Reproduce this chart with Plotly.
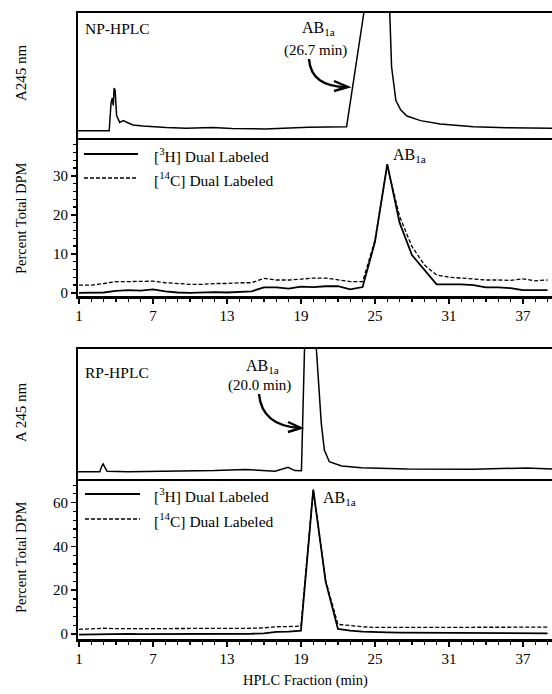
import plotly.graph_objects as go

# ---------------- data ----------------
fractions = [1, 2, 3, 4, 5, 6, 7, 8, 9, 10, 11, 12, 13, 14, 15, 16, 17, 18, 19, 20,
             21, 22, 23, 24, 25, 26, 27, 28, 29, 30, 31, 32, 33, 34, 35, 36, 37, 38, 39]

np_h3 = [0.0, 0.0, 0.1, 0.5, 0.7, 0.6, 0.9, 0.4, 0.1, 0.0, 0.1, 0.2, 0.1, 0.2, 0.4, 1.4,
         1.4, 1.1, 1.6, 1.5, 1.7, 1.7, 0.9, 1.5, 13.0, 33.0, 18.0, 9.7, 5.9, 2.2, 2.2, 2.2,
         2.0, 1.4, 1.4, 1.2, 0.7, 0.7, 0.7]
np_c14 = [2.0, 2.0, 2.4, 2.9, 2.9, 3.0, 3.0, 2.6, 2.4, 2.2, 2.2, 2.4, 2.4, 2.6, 2.6, 3.7,
          3.3, 3.3, 3.5, 3.8, 3.8, 3.4, 2.9, 2.9, 13.5, 32.5, 19.6, 11.9, 7.2, 4.6, 4.0, 3.8,
          3.6, 3.3, 3.3, 3.2, 3.6, 3.1, 3.3]

rp_h3 = [-0.3, -0.2, 0.0, 0.2, 0.0, -0.1, -0.1, -0.1, -0.1, -0.1, 0.0, 0.0, 0.0, 0.1, 0.1, 0.3,
         1.0, 1.1, 1.5, 66.0, 24.0, 2.3, 1.5, 1.1, 0.8, 0.7, 0.6, 0.6, 0.5, 0.5, 0.5, 0.4,
         0.4, 0.4, 0.4, 0.3, 0.3, 0.3, 0.3]
rp_c14 = [2.1, 2.4, 2.6, 2.4, 2.4, 2.3, 2.3, 2.3, 2.3, 2.3, 2.4, 2.4, 2.5, 2.5, 2.6, 2.8,
          3.3, 3.4, 3.6, 66.0, 24.5, 4.4, 3.8, 3.3, 3.0, 3.0, 3.0, 3.0, 3.0, 3.0, 3.0, 3.0,
          3.0, 3.0, 3.0, 3.1, 3.1, 3.1, 3.1]

# UV absorbance traces (relative % of panel height, off-scale peak clipped)
np_abs_x = [0.92, 3.45, 3.6, 3.7, 3.78, 3.85, 3.93, 4.05, 4.3, 4.6, 5.0, 5.38, 6.19, 7.0,
            8.07, 9.69, 11.8, 13.4, 16.1, 19.6, 22.7, 24.1, 24.5, 26.0, 26.2, 26.35, 26.7,
            27.1, 27.6, 28.7, 30.3, 33.0, 35.7, 39.36]
np_abs_y = [5.8, 5.8, 28, 32, 26, 40, 38, 18, 12.5, 14, 12, 10.4, 9.6, 9.0,
            8.3, 7.7, 8.3, 7.6, 7.2, 8.5, 9.0, 100, 160, 160, 100, 57, 30,
            22.4, 17.6, 13.9, 11.2, 9.0, 8.2, 7.7]

rp_abs_x = [0.92, 2.69, 2.85, 2.96, 3.1, 3.28, 5.0, 8.07, 12.0, 14.5, 16.9, 17.96, 18.5,
            19.04, 19.3, 19.45, 20.1, 20.25, 20.65, 20.9, 21.3, 22.3, 23.9, 27.6, 33.0,
            37.3, 39.36]
rp_abs_y = [5.6, 5.6, 10, 11.5, 9, 5.9, 5.6, 5.9, 6.5, 7.4, 6.0, 9.0, 6.5,
            6.4, 100, 160, 160, 100, 42.8, 22.3, 13.3, 10, 8.7, 7.7, 7.5,
            8.5, 7.7]

x_tickvals = [1, 7, 13, 19, 25, 31, 37]
np_dpm_ticks = [0, 10, 20, 30]
rp_dpm_ticks = [0, 20, 40, 60]

# ---------------- layout helpers ----------------
W, H = 552, 694
L = 78


def px(x):
    return (x - L) / (W - L)


def py(y):
    return 1 - y / H


FONT = "Liberation Serif"
BLACK = "black"
XR = [0.92, 39.36]

fig = go.Figure()

# panel 1: NP absorbance
fig.add_trace(go.Scatter(x=np_abs_x, y=np_abs_y, mode="lines", xaxis="x", yaxis="y",
                         line=dict(color=BLACK, width=1.5), showlegend=False))
# panel 2: NP DPM
fig.add_trace(go.Scatter(x=fractions, y=np_c14, mode="lines", xaxis="x2", yaxis="y2",
                         line=dict(color=BLACK, width=1.3, dash="4px,2px"), showlegend=False))
fig.add_trace(go.Scatter(x=fractions, y=np_h3, mode="lines", xaxis="x2", yaxis="y2",
                         line=dict(color=BLACK, width=1.8), showlegend=False))
# panel 3: RP absorbance
fig.add_trace(go.Scatter(x=rp_abs_x, y=rp_abs_y, mode="lines", xaxis="x3", yaxis="y3",
                         line=dict(color=BLACK, width=1.5), showlegend=False))
# panel 4: RP DPM
fig.add_trace(go.Scatter(x=fractions, y=rp_c14, mode="lines", xaxis="x4", yaxis="y4",
                         line=dict(color=BLACK, width=1.3, dash="4px,2px"), showlegend=False))
fig.add_trace(go.Scatter(x=fractions, y=rp_h3, mode="lines", xaxis="x4", yaxis="y4",
                         line=dict(color=BLACK, width=1.8), showlegend=False))

tickfont = dict(family=FONT, size=15, color=BLACK)

abs_x = dict(range=XR, showticklabels=False, ticks="", showline=True, mirror=True,
             linecolor=BLACK, linewidth=2, showgrid=False, zeroline=False, automargin=False)
abs_y = dict(range=[0, 100], showticklabels=False, ticks="", showline=True,
             linecolor=BLACK, linewidth=2, showgrid=False, zeroline=False, automargin=False)
dpm_x = dict(range=XR, tickmode="array", tickvals=x_tickvals, ticks="outside", ticklen=5,
             tickwidth=1.5, tickcolor=BLACK, showline=True, linecolor=BLACK, linewidth=2.5,
             showgrid=False, zeroline=False, tickfont=tickfont, ticklabelstandoff=-1,
             automargin=False,
             minor=dict(dtick=1, tick0=1, ticks="outside", ticklen=3, tickwidth=1.2,
                        tickcolor=BLACK, showgrid=False))


def dpm_y(rng, ticks, minor_dt):
    return dict(range=rng, tickmode="array", tickvals=ticks, ticks="outside", ticklen=5,
                tickwidth=1.5, tickcolor=BLACK, showline=True, linecolor=BLACK,
                linewidth=2, showgrid=False, zeroline=False, tickfont=tickfont,
                automargin=False,
                minor=dict(dtick=minor_dt, tick0=0, ticks="outside", ticklen=3,
                           tickwidth=1.2, tickcolor=BLACK, showgrid=False))


fig.update_layout(
    width=W, height=H,
    margin=dict(l=L, r=0, t=0, b=0, autoexpand=False),
    paper_bgcolor="white", plot_bgcolor="white",
    font=dict(family=FONT, size=14, color=BLACK),
    showlegend=False,
    hovermode=False,
    xaxis=dict(domain=[0, 1], anchor="y", **abs_x),
    yaxis=dict(domain=[py(138), py(13)], anchor="x", **abs_y),
    xaxis2=dict(domain=[0, 1], anchor="y2", **dpm_x),
    yaxis2=dict(domain=[py(296), py(138)], anchor="x2", **dpm_y([-0.8, 39.7], np_dpm_ticks, 2)),
    xaxis3=dict(domain=[0, 1], anchor="y3", **abs_x),
    yaxis3=dict(domain=[py(479), py(349)], anchor="x3", **abs_y),
    xaxis4=dict(domain=[0, 1], anchor="y4", **dpm_x),
    yaxis4=dict(domain=[py(639), py(479)], anchor="x4", **dpm_y([-2.3, 70.8], rp_dpm_ticks, 4)),
)

ann = []


def text(x, y, s, size=14, xanchor="center", yanchor="middle", angle=0):
    ann.append(dict(x=px(x), y=py(y), xref="paper", yref="paper", text=s, showarrow=False,
                    xanchor=xanchor, yanchor=yanchor, textangle=angle, borderpad=0,
                    font=dict(family=FONT, size=size, color=BLACK)))


# panel labels
text(84, 28, "NP-HPLC", 15.5, xanchor="left")
text(84, 372, "RP-HPLC", 15.5, xanchor="left")
# y titles
text(21, 73, "A245 nm", 15, angle=-90)
text(21, 218, "Percent Total DPM", 14.5, angle=-90)
text(21, 412, "A 245 nm", 15, angle=-90)
text(21, 557, "Percent Total DPM", 14.5, angle=-90)
# x title
text(305, 680, "HPLC Fraction (min)", 14.5)
# peak labels
text(318, 29, "AB<sub>1a</sub>", 16)
text(315, 51, "(26.7 min)", 15)
text(392, 155, "AB<sub>1a</sub>", 16, xanchor="left")
text(262, 366, "AB<sub>1a</sub>", 16)
text(259, 385, "(20.0 min)", 15)
text(322, 498, "AB<sub>1a</sub>", 16, xanchor="left")
# legends
text(153, 155, "[<sup>3</sup>H] Dual Labeled", 15.5, xanchor="left")
text(153, 179, "[<sup>14</sup>C] Dual Labeled", 15.5, xanchor="left")
text(153, 495, "[<sup>3</sup>H] Dual Labeled", 15.5, xanchor="left")
text(153, 520, "[<sup>14</sup>C] Dual Labeled", 15.5, xanchor="left")

shapes = []


def seg(x0, y0, x1, y1, dash="solid", width=1.5):
    shapes.append(dict(type="line", xref="paper", yref="paper", x0=px(x0), y0=py(y0),
                       x1=px(x1), y1=py(y1), line=dict(color=BLACK, width=width, dash=dash)))


seg(84, 154, 138, 154, width=1.8)
seg(84, 178, 138, 178, dash="4px,2px", width=1.3)
seg(85, 494, 140, 494, width=1.8)
seg(85, 519, 140, 519, dash="4px,2px", width=1.3)


def curve(p0, c, p1, head):
    path = "M {},{} Q {},{} {},{}".format(px(p0[0]), py(p0[1]), px(c[0]), py(c[1]),
                                           px(p1[0]), py(p1[1]))
    shapes.append(dict(type="path", xref="paper", yref="paper", path=path,
                       line=dict(color=BLACK, width=2.4)))
    a, tip, b = head
    hp = "M {},{} L {},{} L {},{}".format(px(a[0]), py(a[1]), px(tip[0]), py(tip[1]),
                                          px(b[0]), py(b[1]))
    shapes.append(dict(type="path", xref="paper", yref="paper", path=hp,
                       line=dict(color=BLACK, width=2.4)))


curve((309, 59), (311, 87), (347, 87), ((334, 81), (348, 87), (334, 91)))
curve((259, 394), (262, 426), (300, 428), ((288, 422), (301, 428), (288, 432)))

fig.update_layout(annotations=ann, shapes=shapes)

fig.write_html("out.html", config={"displayModeBar": False, "staticPlot": True})

# remove the browser's default page margin so the figure sits at the window origin
with open("out.html", "r", encoding="utf-8") as f:
    html = f.read()
html = html.replace("<head>", "<head><style>html,body{margin:0;padding:0;overflow:hidden;}</style>", 1)
with open("out.html", "w", encoding="utf-8") as f:
    f.write(html)
